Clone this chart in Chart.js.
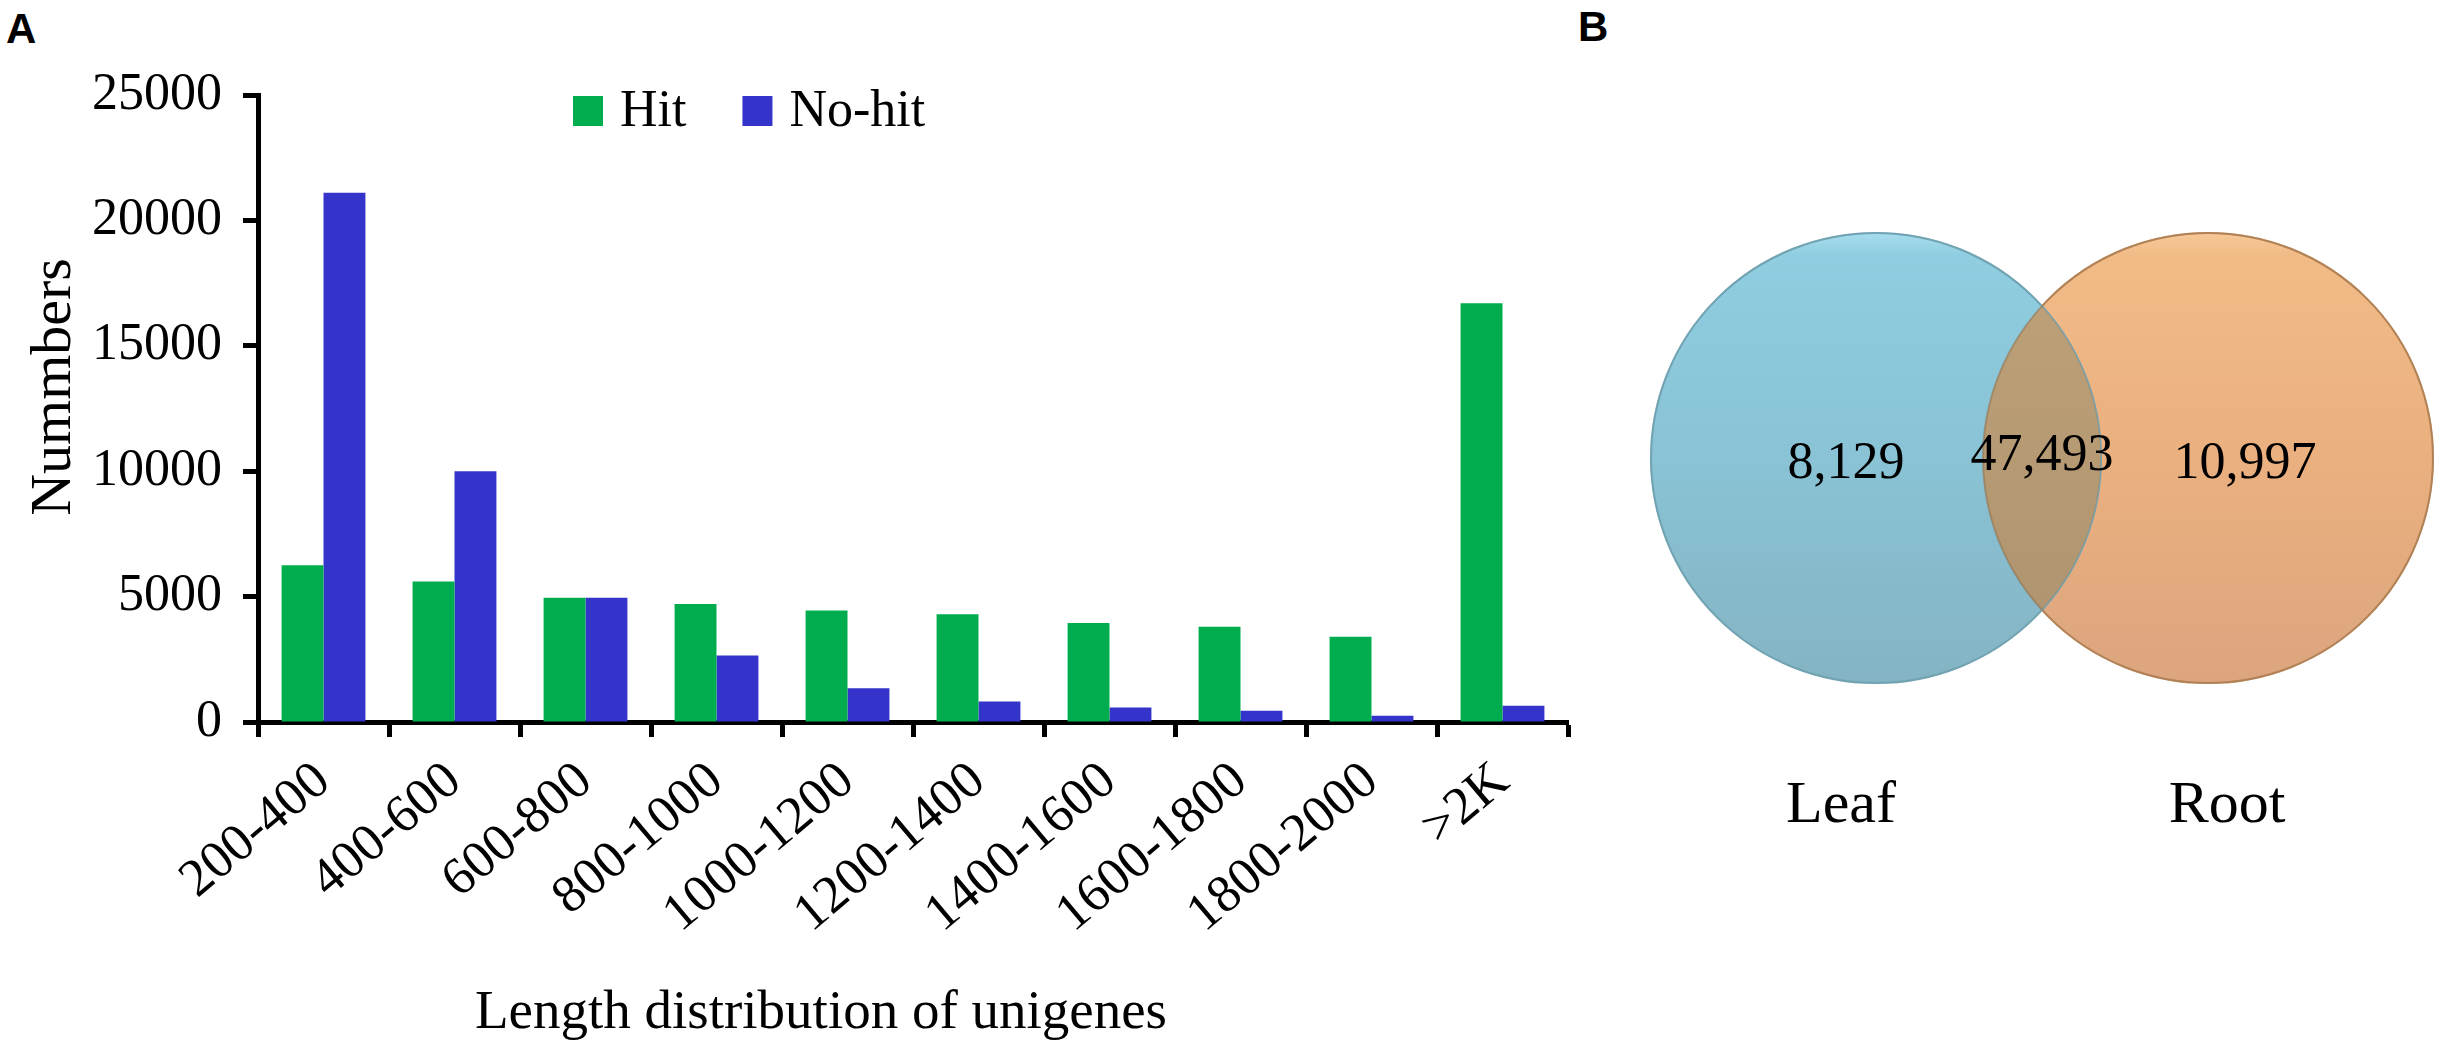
<!DOCTYPE html>
<html>
<head>
<meta charset="utf-8">
<script src="https://cdn.jsdelivr.net/npm/chart.js@4.4.1/dist/chart.umd.min.js"></script>
<style>
html,body{margin:0;padding:0;background:#fff;width:2455px;height:1043px;overflow:hidden}
.panel{position:absolute;font-family:"Liberation Sans",Arial,sans-serif;font-weight:bold;font-size:42px;line-height:1}
#barChart{position:absolute;left:0;top:0}
#vennChart{position:absolute;left:1600px;top:0}
</style>
</head>
<body>
<div class="panel" style="left:6px;top:8px">A</div>
<div class="panel" style="left:1578px;top:6px">B</div>
<canvas id="barChart" width="1600" height="1043"></canvas>
<canvas id="vennChart" width="855" height="1043"></canvas>
<script>
// data
const lengthBins = ["200-400","400-600","600-800","800-1000","1000-1200","1200-1400","1400-1600","1600-1800","1800-2000",">2K"]
const hitCounts = [6250,5600,4950,4700,4450,4300,3950,3800,3400,16700]
const noHitCounts = [21100,10000,4950,2650,1350,820,580,450,250,650]
const seriesNames = ["Hit","No-hit"]
const yMax = 25000
const yStep = 5000

const vennSets = ["Leaf","Root"]
const vennCounts = [8129,47493,10997]   // leaf only, shared, root only

const serif = "'Liberation Serif','Times New Roman',serif"

// legend + axis titles for the bar chart
const barDecor = {
id:"barDecor",
afterDraw(chart){
const ctx = chart.ctx
const area = chart.chartArea
ctx.save()

// legend
let x = area.left + 315
const y = area.top + 1
ctx.font = "52px " + serif
ctx.textBaseline = "alphabetic"
ctx.textAlign = "left"
chart.data.datasets.forEach(ds => {
ctx.fillStyle = ds.backgroundColor
ctx.fillRect(x, y, 30, 30)
ctx.fillStyle = "#000"
ctx.fillText(ds.label, x + 47, y + 30)
x += 47 + ctx.measureText(ds.label).width + 56
})

// x title
ctx.font = "55px " + serif
ctx.fillText("Length distribution of unigenes", area.left + 217, 1028)

// y title
ctx.textAlign = "center"
ctx.font = "58px " + serif
ctx.translate(70, 387)
ctx.rotate(-Math.PI / 2)
ctx.fillText("Nummbers", 0, 0)

ctx.restore()
}
}

new Chart(document.getElementById("barChart"),{
type:"bar",
data:{
labels:lengthBins,
datasets:[
{label:seriesNames[0], data:hitCounts, backgroundColor:"#00AD4E"},
{label:seriesNames[1], data:noHitCounts, backgroundColor:"#3434CA"}
]
},
options:{
responsive:false,
devicePixelRatio:1,
animation:false,
categoryPercentage:0.64,
barPercentage:1.0,
layout:{padding:{left:0,right:32,top:95,bottom:0}},
plugins:{legend:{display:false},tooltip:{enabled:false}},
scales:{
x:{
grid:{drawOnChartArea:false,drawTicks:true,tickLength:15,tickWidth:5,tickColor:"#000",offset:true},
border:{display:true,color:"#000",width:5},
ticks:{color:"#000",font:{family:serif,size:53},minRotation:40,maxRotation:40,autoSkip:false,padding:13},
afterFit(scale){ scale.height = 321 }
},
y:{
min:0,
max:yMax,
grid:{drawOnChartArea:false,drawTicks:true,tickLength:15,tickWidth:5,tickColor:"#000"},
border:{display:true,color:"#000",width:5},
ticks:{stepSize:yStep,color:"#000",font:{family:serif,size:52},padding:21,
callback:v => String(v)},
afterFit(scale){ scale.width = 258 }
}
}
},
plugins:[barDecor]
})

// VENN
const vennRadius = 225

function vertGrad(chart, stops){
const yc = chart.scales.y.getPixelForValue(0)
const g = chart.ctx.createLinearGradient(0, yc - vennRadius, 0, yc + vennRadius)
stops.forEach(s => g.addColorStop(s[0], s[1]))
return g
}

const blueStops = [[0,"#A6DDEE"],[0.05,"#90CDE0"],[0.5,"#89C3D5"],[1,"#84B4C3"]]
const orangeStops = [[0,"#F7C898"],[0.05,"#F1BB86"],[0.5,"#EAB07F"],[1,"#DCA57F"]]
const mixStops = [[0,"#BFA27A"],[0.5,"#B69A73"],[1,"#AC936F"]]

const vennDecor = {
id:"vennDecor",
afterDatasetsDraw(chart){
const ctx = chart.ctx
const a = chart.getDatasetMeta(0).data[0]
const b = chart.getDatasetMeta(1).data[0]
const r = a.options.radius

ctx.save()
// overlap region
ctx.beginPath()
ctx.arc(a.x, a.y, r, 0, Math.PI * 2)
ctx.clip()
ctx.beginPath()
ctx.arc(b.x, b.y, b.options.radius, 0, Math.PI * 2)
ctx.fillStyle = vertGrad(chart, mixStops)
ctx.fill()
ctx.restore()

ctx.save()
ctx.lineWidth = 2
ctx.strokeStyle = "rgba(150,110,70,0.55)"
ctx.beginPath()
ctx.arc(b.x, b.y, b.options.radius, 0, Math.PI * 2)
ctx.stroke()
ctx.strokeStyle = "rgba(110,140,150,0.35)"
ctx.beginPath()
ctx.arc(a.x, a.y, r, 0, Math.PI * 2)
ctx.stroke()

// counts
ctx.fillStyle = "#000"
ctx.textAlign = "center"
ctx.textBaseline = "middle"
ctx.font = "52px " + serif
const fmt = n => n.toLocaleString("en-US")
ctx.fillText(fmt(vennCounts[0]), a.x - 30, a.y + 6)
ctx.fillText(fmt(vennCounts[1]), (a.x + b.x) / 2, a.y - 2)
ctx.fillText(fmt(vennCounts[2]), b.x + 37, a.y + 6)

// set names
ctx.font = "60px " + serif
ctx.fillText(vennSets[0], a.x - 35, a.y + 348)
ctx.fillText(vennSets[1], b.x + 19, a.y + 348)
ctx.restore()
}
}

new Chart(document.getElementById("vennChart"),{
type:"bubble",
data:{
datasets:[
{label:vennSets[0], data:[{x:0,y:0,r:vennRadius}], clip:false,
backgroundColor:c => c.chart.chartArea ? vertGrad(c.chart, blueStops) : "#8AC4D6",
borderColor:"#74AFC2", borderWidth:2},
{label:vennSets[1], data:[{x:1,y:0,r:vennRadius}], clip:false,
backgroundColor:c => c.chart.chartArea ? vertGrad(c.chart, orangeStops) : "#EAB07F",
borderColor:"#D39B6B", borderWidth:2}
]
},
options:{
responsive:false,
devicePixelRatio:1,
animation:false,
layout:{autoPadding:false,padding:{left:276,right:247,top:0,bottom:127}},
plugins:{legend:{display:false},tooltip:{enabled:false}},
scales:{
x:{display:false,min:0,max:1},
y:{display:false,min:-1,max:1}
}
},
plugins:[vennDecor]
})
</script>
</body>
</html>
